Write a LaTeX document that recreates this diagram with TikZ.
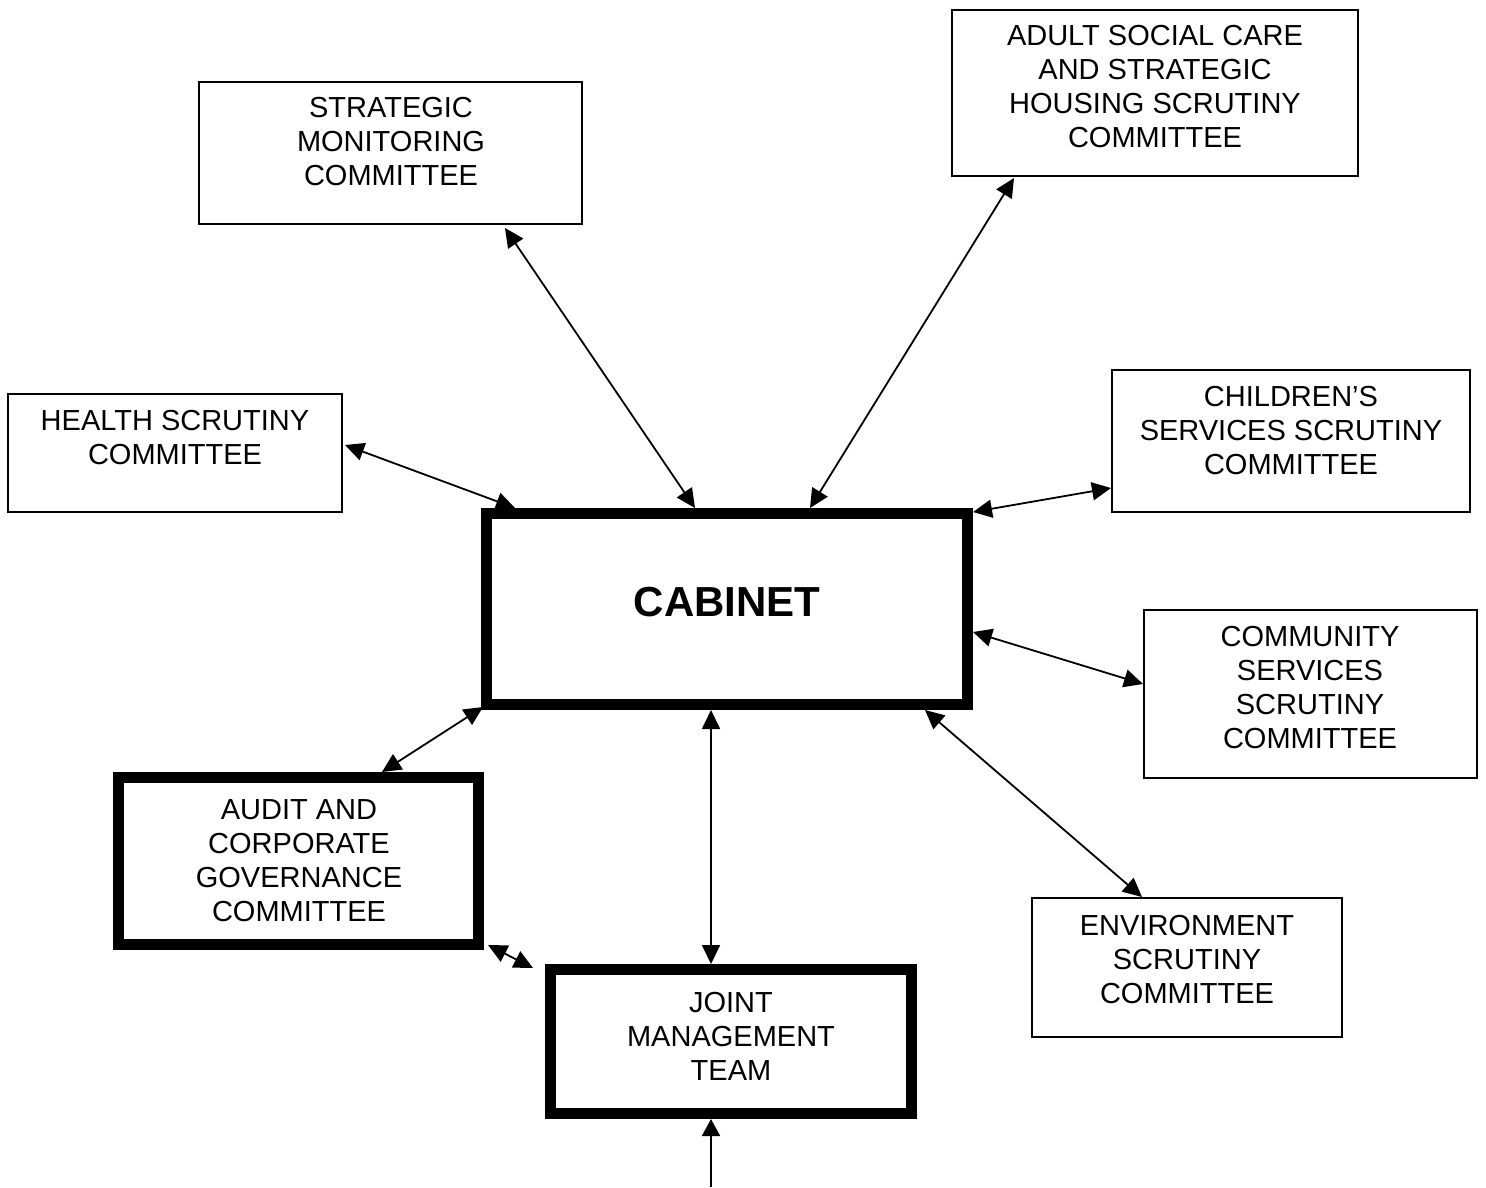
\documentclass[tikz,border=0pt]{standalone}
\usepackage{fontspec}
\setmainfont{Liberation Sans}
\usetikzlibrary{arrows.meta,calc}
\begin{document}
\begin{tikzpicture}[x=1pt,y=-1pt,
  thinbox/.style={draw=black,line width=2pt,fill=white,inner sep=0pt},
  thickbox/.style={draw=black,line width=11pt,fill=white,inner sep=0pt},
  lbl/.style={font=\fontsize{29}{34}\selectfont,align=center,inner sep=0pt},
  link/.style={line width=1.8pt,{Triangle[length=19pt,width=18pt]}-{Triangle[length=19pt,width=18pt]}},
  onelink/.style={line width=1.8pt,-{Triangle[length=17pt,width=18pt]}}]
\useasboundingbox[fill=white] (0,0) rectangle (1486,1187);
% boxes
\node[thinbox,minimum width=383pt,minimum height=142pt] (smc) at (390.5,153) {};
\node[thinbox,minimum width=406pt,minimum height=166pt] (asc) at (1155,93) {};
\node[thinbox,minimum width=334pt,minimum height=118pt] (hsc) at (175,453) {};
\node[thinbox,minimum width=358pt,minimum height=142pt] (csc) at (1291,441) {};
\node[thinbox,minimum width=333pt,minimum height=168pt] (comm) at (1310.5,694) {};
\node[thinbox,minimum width=310pt,minimum height=139pt] (env) at (1187,967.5) {};
\node[thickbox,minimum width=481pt,minimum height=191pt] (cab) at (727,609) {};
\node[thickbox,minimum width=360pt,minimum height=167pt] (aud) at (298.5,861) {};
\node[thickbox,minimum width=361pt,minimum height=144pt] (jmt) at (731,1041.5) {};
% labels
\node[lbl] (smcT) at (391,142) {STRATEGIC\\MONITORING\\COMMITTEE};
\node[lbl] (ascT) at (1155,87) {ADULT SOCIAL CARE\\AND STRATEGIC\\HOUSING SCRUTINY\\COMMITTEE};
\node[lbl] (hscT) at (175,438) {HEALTH SCRUTINY\\COMMITTEE};
\node[lbl] (cscT) at (1291,431) {CHILDREN’S\\SERVICES SCRUTINY\\COMMITTEE};
\node[lbl] (commT) at (1310,688) {COMMUNITY\\SERVICES\\SCRUTINY\\COMMITTEE};
\node[lbl] (envT) at (1187,959) {ENVIRONMENT\\SCRUTINY\\COMMITTEE};
\node[lbl] (audT) at (299,861) {AUDIT AND\\CORPORATE\\GOVERNANCE\\COMMITTEE};
\node[lbl] (jmtT) at (731,1036) {JOINT\\MANAGEMENT\\TEAM};
\node[font=\fontsize{42}{48}\selectfont\bfseries,inner sep=0pt] (cabT) at (727,602) {CABINET};
% connectors
\draw[link] ($(hsc.east)+(2,-8)$) -- ($(cab.north west)+(34,0)$);
\draw[link] ($(smc.south east)+(-78,3)$) -- ($(cab.north west)+(214,0)$);
\draw[link] ($(asc.south west)+(63,1)$) -- ($(cab.north west)+(329,0)$);
\draw[link] ($(cab.north east)+(0,4)$) -- ($(csc.west)+(0,47)$);
\draw[link] ($(cab.east)+(0,23)$) -- ($(comm.west)+(0,-10)$);
\draw[link] ($(cab.south east)+(-48,0)$) -- ($(env.north west)+(111,0)$);
\draw[link] ($(aud.north west)+(269,0)$) -- ($(cab.south west)+(2,-3)$);
\draw[link] ($(cab.south west)+(230,0)$) -- ($(jmt.north west)+(166,0)$);
\draw[link] ($(aud.south east)+(4,-5)$) -- ($(jmt.north west)+(-12,4)$);
\coordinate (bot) at (711,1187);
\draw[onelink] (bot) -- ($(jmt.south west)+(166,0)$);
\end{tikzpicture}
\end{document}
